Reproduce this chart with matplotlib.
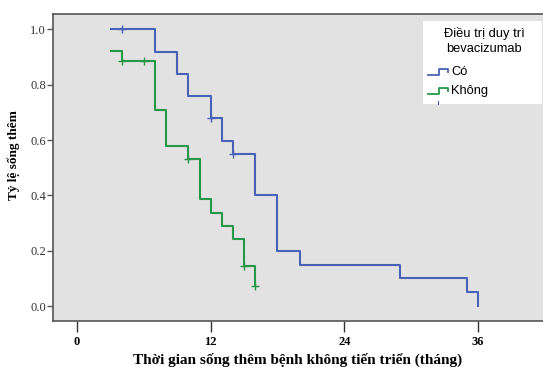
import matplotlib.pyplot as plt
from matplotlib.lines import Line2D
from matplotlib.patches import Rectangle

# Kaplan-Meier steps: event times and survival after each step
co_time = [3.1, 7.0, 9.0, 10.0, 12.0, 13.0, 14.0, 16.0, 18.0, 20.0, 29.0, 35.0, 36.0]
co_surv = [1.0, 0.92, 0.84, 0.76, 0.68, 0.595, 0.55, 0.40, 0.20, 0.15, 0.10, 0.05, 0.0]
co_cens_t = [4.0, 12.0, 14.0]
co_cens_s = [1.0, 0.68, 0.55]

khong_time = [3.1, 4.0, 7.0, 8.0, 10.0, 11.0, 12.0, 13.0, 14.0, 15.0, 16.0]
khong_surv = [0.923, 0.885, 0.708, 0.577, 0.532, 0.386, 0.338, 0.29, 0.241, 0.145, 0.072]
khong_cens_t = [4.0, 6.0, 10.0, 15.0, 16.0]
khong_cens_s = [0.885, 0.885, 0.532, 0.145, 0.072]

xticks = [0, 12, 24, 36]
yticks = [0.0, 0.2, 0.4, 0.6, 0.8, 1.0]

BLUE = "#4a62b6"
GREEN = "#27984a"
SPINE = "#555555"

fig = plt.figure(figsize=(5.43, 3.67), dpi=100)
ax = fig.add_axes([0.0976, 0.1253, 0.9024, 0.8366])
ax.set_facecolor("#e2e2e2")

ax.step(co_time, co_surv, where="post", color=BLUE, lw=1.5)
ax.step(khong_time, khong_surv, where="post", color=GREEN, lw=1.5)
ax.plot(co_cens_t, co_cens_s, "+", color=BLUE, ms=6, mew=1.0)
ax.plot(khong_cens_t, khong_cens_s, "+", color=GREEN, ms=6, mew=1.0)

ax.set_xlim(-2.15, 41.83)
ax.set_ylim(-0.054, 1.056)
ax.set_xticks(xticks)
ax.set_yticks(yticks)
ax.set_yticklabels([f"{v:.1f}" for v in yticks], family="Liberation Serif", fontsize=9, color="#333333")
ax.set_xticklabels([str(v) for v in xticks], family="Liberation Serif", fontsize=9, fontweight="bold")
ax.tick_params(axis="y", length=4, width=1, color=SPINE, pad=1)
ax.tick_params(axis="x", length=8, width=1, color="#333333", pad=3)

for s in ["left", "bottom", "top"]:
    ax.spines[s].set_color(SPINE)
    ax.spines[s].set_linewidth(1.2)
ax.spines["right"].set_visible(False)

ax.set_xlabel("Thời gian sống thêm bệnh không tiến triển (tháng)",
              family="Liberation Serif", fontsize=11, fontweight="bold", labelpad=3)
ax.set_ylabel("Tỷ lệ sống thêm", family="Liberation Serif", fontsize=9.5,
              fontweight="bold", labelpad=8)
ax.yaxis.set_label_coords(-0.068, 0.54)

# legend box, drawn by hand in pixel-based figure coords
W, H = 543, 367
def fx(px):
    return px / W
def fy(py):
    return 1 - py / H

fig.patches.append(Rectangle((fx(423), fy(104)), fx(541.5) - fx(423), fy(21) - fy(104),
                             transform=fig.transFigure, facecolor="white", edgecolor="none"))
fig.text(fx(484), fy(34), "Điều trị duy trì", ha="center", va="center",
         family="Liberation Sans", fontsize=9.3)
fig.text(fx(484), fy(49), "bevacizumab", ha="center", va="center",
         family="Liberation Sans", fontsize=9.3)
for py, col, lab in [(72, BLUE, "Có"), (91, GREEN, "Không")]:
    xs = [fx(428), fx(439), fx(439), fx(448), fx(448)]
    ys = [fy(py + 3), fy(py + 3), fy(py - 3), fy(py - 3), fy(py)]
    fig.add_artist(Line2D(xs, ys, color=col, lw=1.3, transform=fig.transFigure))
    fig.text(fx(451), fy(py), lab, ha="left", va="center",
             family="Liberation Sans", fontsize=9.3)
fig.add_artist(Line2D([fx(438), fx(438)], [fy(104), fy(101)], color=BLUE, lw=0.8,
                      transform=fig.transFigure))

fig.savefig("out.png", dpi=100)
